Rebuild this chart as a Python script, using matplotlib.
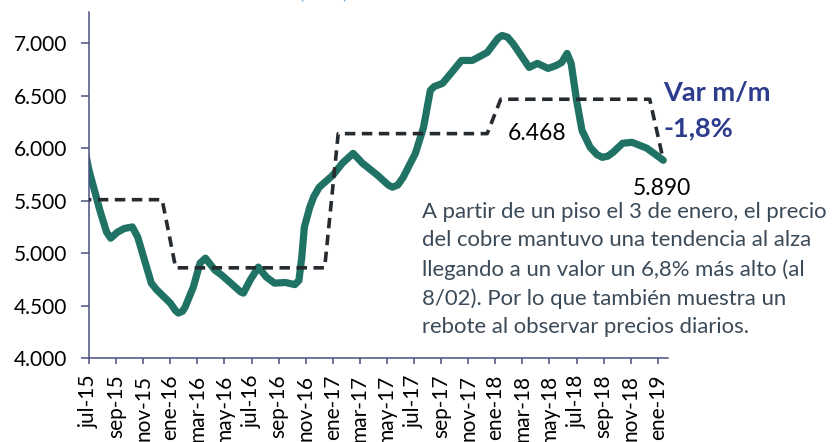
import matplotlib
matplotlib.use("Agg")
import matplotlib.pyplot as plt
import numpy as np

plt.rcParams["font.family"] = ["Lato", "DejaVu Sans"]

# copper price (US$/ton), months since jul-15
price_month = [-0.3, 0.0, 0.8, 1.3, 1.6, 2.1, 2.6, 3.2, 3.6, 4.1, 4.6, 5.0, 5.4, 6.0,
               6.4, 6.6, 6.9, 7.1, 7.7, 8.2, 8.6, 9.3, 9.8, 10.8, 11.2, 11.4, 11.9,
               12.5, 13.1, 13.7, 14.5, 15.2, 15.5, 15.7, 15.9, 16.3, 16.6, 17.0,
               18.0, 18.7, 19.5, 20.2, 21.3, 22.1, 22.4, 22.8, 23.2, 24.1, 24.7,
               25.2, 25.5, 26.1, 26.9, 27.5, 28.3, 29.4, 30.2, 30.5, 30.9, 31.3,
               32.0, 32.5, 33.1, 33.9, 34.5, 34.9, 35.3, 35.6, 36.0, 36.4, 37.0,
               37.5, 37.9, 38.3, 38.7, 39.4, 40.1, 41.2, 42.4]
price = [5980, 5790, 5410, 5200, 5143, 5200, 5235, 5250, 5152, 4933, 4714, 4650,
         4600, 4524, 4450, 4429, 4445, 4486, 4676, 4905, 4952, 4838, 4790, 4676,
         4630, 4619, 4743, 4867, 4771, 4714, 4720, 4700, 4740, 4950, 5248, 5438,
         5540, 5629, 5743, 5857, 5952, 5857, 5743, 5650, 5629, 5650, 5724, 5952,
         6200, 6552, 6590, 6619, 6743, 6838, 6838, 6914, 7050, 7076, 7060, 7000,
         6867, 6771, 6810, 6762, 6790, 6819, 6905, 6810, 6457, 6171, 6010, 5940,
         5914, 5925, 5962, 6048, 6057, 6000, 5886]

# annual averages, repeated per month (jun-15 .. ene-19)
years = [2015, 2016, 2017, 2018, 2019]
annual_avg = [5510, 4860, 6140, 6468, 5890]
months_in_year = [7, 12, 12, 12, 1]

month_names = ["ene", "feb", "mar", "abr", "may", "jun",
               "jul", "ago", "sep", "oct", "nov", "dic"]

avg_vals = np.repeat(annual_avg, months_in_year)
avg_month = np.arange(len(avg_vals)) - 1 + 0.4

tick_pos = np.arange(0, 43, 2)
tick_labels = [f"{month_names[(6 + k) % 12]}-{(15 + (6 + k) // 12):02d}" for k in tick_pos]

fig = plt.figure(figsize=(8.32, 4.42), dpi=100)
ax = fig.add_axes([89 / 832, 1 - 358 / 442, (668 - 89) / 832, (358 - 12) / 442])

ax.plot(price_month, price, color="#1F7264", lw=5.2, solid_joinstyle="round",
        solid_capstyle="round", zorder=2)
ax.plot(avg_month, avg_vals, color="#262B30", lw=2.6, dashes=(2.9, 1.8),
        dash_capstyle="butt", zorder=3)

ax.set_xlim(0, 42.75)
ax.set_ylim(4000, 7300)
ax.set_yticks(np.arange(4000, 7001, 500))
ax.set_yticklabels([f"{v:,.0f}".replace(",", ".") for v in np.arange(4000, 7001, 500)],
                   fontsize=15)
ax.set_xticks(tick_pos)
ax.set_xticklabels(tick_labels, rotation=90, fontsize=15)

axis_col = "#4A5080"
for s in ["top", "right"]:
    ax.spines[s].set_visible(False)
for s in ["left", "bottom"]:
    ax.spines[s].set_color(axis_col)
    ax.spines[s].set_linewidth(1.1)
ax.tick_params(axis="both", direction="out", width=1.1, color=axis_col,
               labelcolor="black")
ax.tick_params(axis="y", length=6, pad=10)
ax.tick_params(axis="x", length=4, pad=8)

ax.text(33.1, 6143, "6.468", fontsize=16.5, ha="center", va="center")
ax.text(42.3, 5619, "5.890", fontsize=16.5, ha="center", va="center")
ax.text(42.4, 6530, "Var m/m", fontsize=19.5, fontweight="bold", color="#2E3C8E",
        ha="left", va="center")
ax.text(42.4, 6190, "-1,8%", fontsize=19.5, fontweight="bold", color="#2E3C8E",
        ha="left", va="center")

fig.text(422 / 832, 1 - 202 / 442,
         "A partir de un piso el 3 de enero, el precio\n"
         "del cobre mantuvo una tendencia al alza\n"
         "llegando a un valor un 6,8% más alto (al\n"
         "8/02). Por lo que también muestra un\n"
         "rebote al observar precios diarios.",
         fontsize=15.9, color="#3B4A58", ha="left", va="top", linespacing=1.52)

fig.text(323 / 832, 1 + 1.5 / 442, "(USD)", fontsize=14, color="#7FB0D4",
         ha="center", va="baseline")

fig.savefig("out.png", dpi=100)
